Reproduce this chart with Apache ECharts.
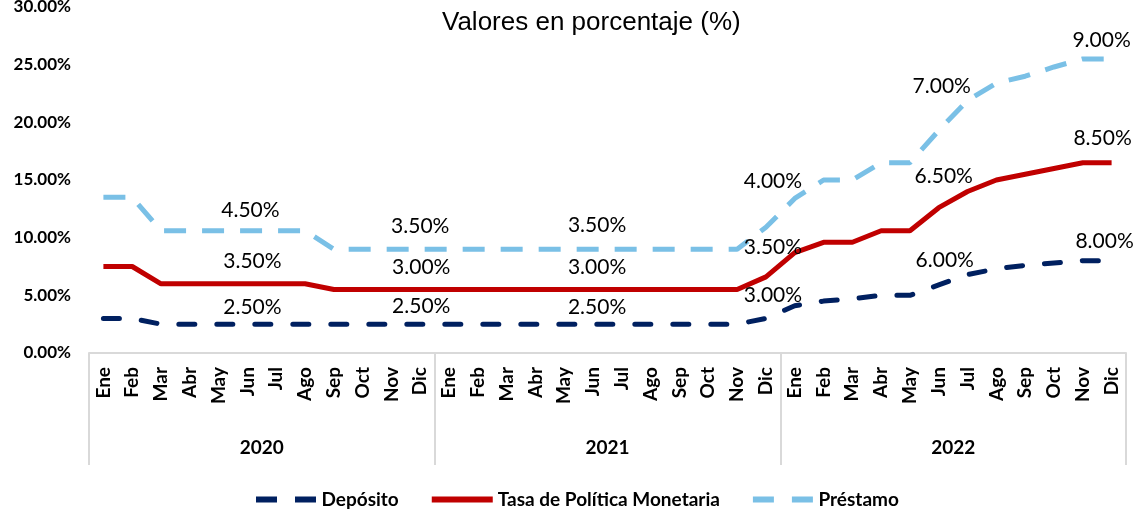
<!DOCTYPE html>
<html>
<head>
<meta charset="utf-8">
<script src="https://cdn.jsdelivr.net/npm/echarts@6/dist/echarts.min.js"></script>
<style>
html,body{margin:0;padding:0;background:#fff;}
#chart{width:1136px;height:510px;}
</style>
</head>
<body>
<div id="chart"></div>
<script>
// ---------- DATA ----------
var categories = [
  'Ene','Feb','Mar','Abr','May','Jun','Jul','Ago','Sep','Oct','Nov','Dic',
  'Ene','Feb','Mar','Abr','May','Jun','Jul','Ago','Sep','Oct','Nov','Dic',
  'Ene','Feb','Mar','Abr','May','Jun','Jul','Ago','Sep','Oct','Nov','Dic'
];
var years = ['2020', '2021', '2022'];
var yTicks = [0, 5, 10, 15, 20, 25, 30];

var deposito = [
  3.0, 3.0, 2.5, 2.5, 2.5, 2.5, 2.5, 2.5, 2.5, 2.5, 2.5, 2.5,
  2.5, 2.5, 2.5, 2.5, 2.5, 2.5, 2.5, 2.5, 2.5, 2.5, 2.5, 3.0,
  4.1, 4.5, 4.7, 5.0, 5.0, 5.9, 6.8, 7.3, 7.6, 7.8, 8.0, 8.0
];
var tasa = [
  7.5, 7.5, 6.0, 6.0, 6.0, 6.0, 6.0, 6.0, 5.5, 5.5, 5.5, 5.5,
  5.5, 5.5, 5.5, 5.5, 5.5, 5.5, 5.5, 5.5, 5.5, 5.5, 5.5, 6.6,
  8.7, 9.6, 9.6, 10.6, 10.6, 12.6, 14.0, 15.0, 15.5, 16.0, 16.5, 16.5
];
var prestamo = [
  13.5, 13.5, 10.6, 10.6, 10.6, 10.6, 10.6, 10.6, 9.0, 9.0, 9.0, 9.0,
  9.0, 9.0, 9.0, 9.0, 9.0, 9.0, 9.0, 9.0, 9.0, 9.0, 9.0, 10.9,
  13.4, 15.0, 15.0, 16.5, 16.5, 19.3, 21.9, 23.4, 24.0, 24.8, 25.5, 25.5
];

// data-label texts (index -> text)
var depositoLabels = {5: '2.50%', 11: '2.50%', 17: '2.50%', 23: '3.00%', 29: '6.00%', 35: '8.00%'};
var tasaLabels     = {5: '3.50%', 11: '3.00%', 17: '3.00%', 23: '3.50%', 29: '6.50%', 35: '8.50%'};
var prestamoLabels = {5: '4.50%', 11: '3.50%', 17: '3.50%', 23: '4.00%', 29: '7.00%', 35: '9.00%'};

// ---------- LAYOUT / STYLE ----------
var FONT = "Lato, 'Open Sans', sans-serif";
var COLORS = {deposito: '#002060', tasa: '#C00000', prestamo: '#7AC0E6'};
var depositoOffsets = {5: [5, -17], 11: [1, -18], 17: [4, -17], 23: [7, -23], 29: [6, -25], 35: [-7, -19]};
var tasaOffsets     = {5: [5, -23], 11: [1, -22], 17: [4, -22], 23: [7, -30], 29: [5, -31], 35: [-9, -24]};
var prestamoOffsets = {5: [3, -21], 11: [0, -23], 17: [4, -24], 23: [7, -46], 29: [3, -44], 35: [-10, -19]};

function buildData(values, labels, offsets) {
  return values.map(function (v, i) {
    if (labels[i]) {
      return {
        value: v,
        label: {
          show: true,
          position: 'inside',
          offset: offsets[i],
          formatter: labels[i],
          color: '#000',
          opacity: 1,
          fontFamily: FONT,
          fontSize: 21,
          fontWeight: 'normal'
        }
      };
    }
    return v;
  });
}

function lineSeries(name, values, labels, offsets, lineStyle) {
  return {
    name: name,
    type: 'line',
    xAxisIndex: 0,
    data: buildData(values, labels, offsets),
    symbol: 'circle',
    symbolSize: 1,
    showSymbol: true,
    showAllSymbol: true,
    itemStyle: {color: 'rgba(0,0,0,0)', borderWidth: 0},
    lineStyle: lineStyle,
    emphasis: {disabled: true},
    z: 3
  };
}

var chart = echarts.init(document.getElementById('chart'), null, {renderer: 'canvas'});

var DASH_ICON = 'path://M0,0h21v6h-21z M39,0h21v6h-21z';

var option = {
  animation: false,
  backgroundColor: '#fff',
  title: {
    text: 'Valores en porcentaje (%)',
    left: 437,
    top: 5,
    textStyle: {
      fontFamily: "'Liberation Sans', Arial, sans-serif",
      fontSize: 26,
      fontWeight: 'normal',
      color: '#000'
    }
  },
  legend: {
    left: 251,
    top: 485,
    itemWidth: 61,
    itemHeight: 6,
    itemGap: 33,
    textStyle: {fontFamily: FONT, fontSize: 19, fontWeight: 'bold', color: '#000'},
    data: [
      {name: 'Depósito', icon: DASH_ICON, itemStyle: {color: COLORS.deposito, opacity: 1}},
      {name: 'Tasa de Política Monetaria', icon: 'rect', itemStyle: {color: COLORS.tasa, opacity: 1}},
      {name: 'Préstamo', icon: DASH_ICON, itemStyle: {color: COLORS.prestamo, opacity: 1}}
    ]
  },
  grid: {left: 89, right: 10, top: 7, bottom: 157, containLabel: false, outerBoundsMode: 'none'},
  xAxis: [
    {
      type: 'category',
      data: categories,
      boundaryGap: true,
      position: 'bottom',
      axisLine: {show: true, lineStyle: {color: '#D9D9D9', width: 2}},
      axisTick: {show: false},
      axisLabel: {
        interval: 0,
        rotate: 90,
        margin: 14,
        fontFamily: FONT,
        fontSize: 19,
        fontWeight: 'bold',
        color: '#000'
      },
      splitLine: {show: false}
    },
    {
      type: 'category',
      data: years,
      boundaryGap: true,
      position: 'bottom',
      offset: 112,
      axisLine: {show: false},
      axisTick: {show: true, inside: true, length: 112, interval: 0,
                 lineStyle: {color: '#D9D9D9', width: 2}},
      axisLabel: {
        inside: true,
        margin: 8,
        fontFamily: FONT,
        fontSize: 19,
        fontWeight: 'bold',
        color: '#000'
      },
      splitLine: {show: false}
    }
  ],
  yAxis: {
    type: 'value',
    min: yTicks[0],
    max: yTicks[yTicks.length - 1],
    interval: 5,
    axisLine: {show: false},
    axisTick: {show: false},
    splitLine: {show: false},
    axisLabel: {
      margin: 18,
      formatter: function (v) { return v.toFixed(2) + '%'; },
      fontFamily: FONT,
      fontSize: 17,
      fontWeight: 'bold',
      color: '#000'
    }
  },
  series: [
    lineSeries('Depósito', deposito, depositoLabels, depositoOffsets,
      {color: COLORS.deposito, width: 5, type: [16, 22], cap: 'round'}),
    lineSeries('Tasa de Política Monetaria', tasa, tasaLabels, tasaOffsets,
      {color: COLORS.tasa, width: 5, type: 'solid'}),
    lineSeries('Préstamo', prestamo, prestamoLabels, prestamoOffsets,
      {color: COLORS.prestamo, width: 5, type: [22, 16], cap: 'butt'})
  ]
};
chart.setOption(option);
</script>
</body>
</html>
